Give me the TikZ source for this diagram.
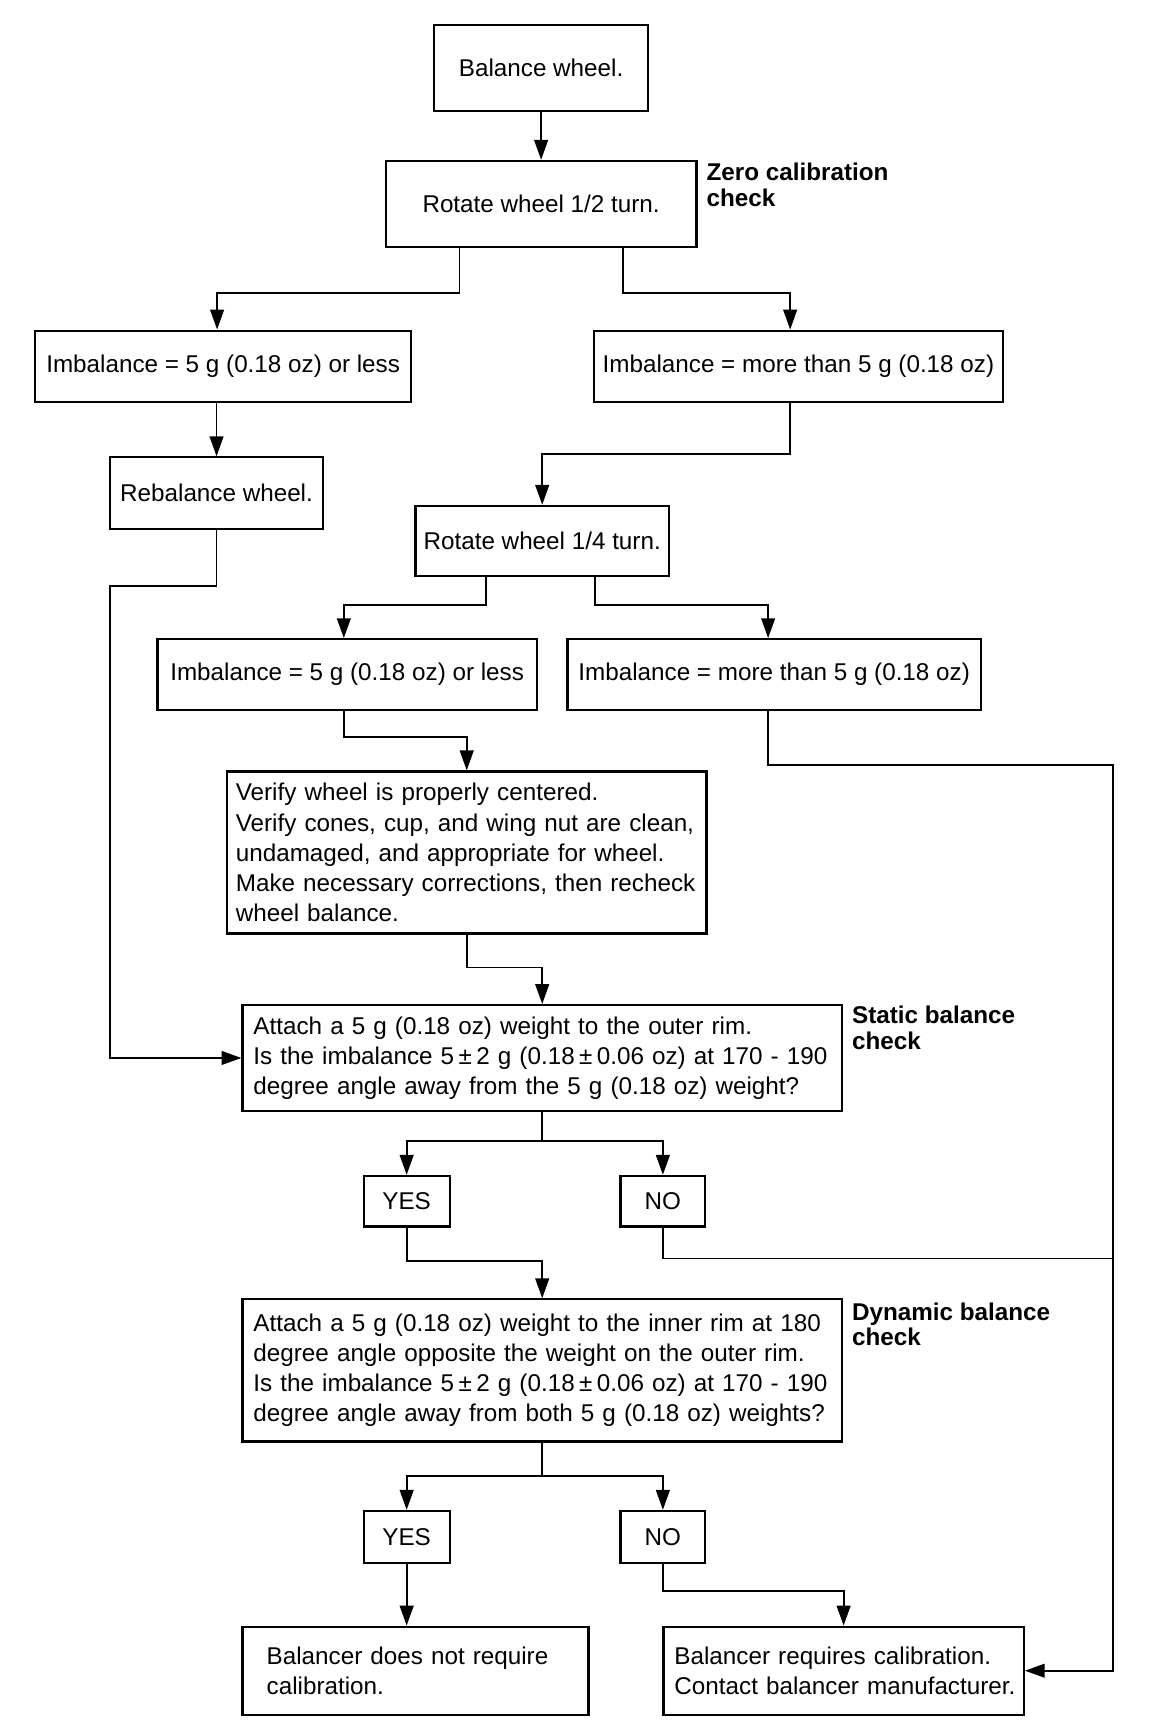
\documentclass[tikz,border=0pt]{standalone}
\usepackage{fontspec}
\setmainfont{Liberation Sans}
\usetikzlibrary{arrows.meta,calc}
\newcommand\pmsp{\hspace{4pt}±\hspace{4pt}}
\begin{document}
\begin{tikzpicture}[x=1pt,y=-1pt,
  box/.style={draw, line width=2pt, inner sep=0pt, font=\fontsize{22}{27.3}\selectfont},
  conn/.style={line width=1.6pt},
  arr/.style={conn, -{Triangle[length=18pt,width=12.5pt]}},
  lbl/.style={font=\fontsize{22}{23}\selectfont\bfseries, align=left, inner sep=0pt, anchor=north west}]
\useasboundingbox (0,0) rectangle (1045,1568);
% nodes
\node[box, minimum width=194pt, minimum height=78pt] (bal) at (491,62) {Balance wheel.};
\node[box, minimum width=282pt, minimum height=78pt] (rot2) at (491,185) {Rotate wheel 1/2 turn.};
\node[box, minimum width=341pt, minimum height=65pt] (imbL) at (202.5,332.5) {Imbalance = 5 g (0.18 oz) or less};
\node[box, minimum width=371pt, minimum height=65pt] (imbR) at (724.5,332.5) {Imbalance = more than 5 g (0.18 oz)};
\node[box, minimum width=193pt, minimum height=65pt] (reb) at (196.5,447.5) {Rebalance wheel.};
\node[box, minimum width=230pt, minimum height=64pt] (rot4) at (492,491) {Rotate wheel 1/4 turn.};
\node[box, minimum width=344pt, minimum height=64pt] (imbL2) at (315,612) {Imbalance = 5 g (0.18 oz) or less};
\node[box, minimum width=375pt, minimum height=64pt] (imbR2) at (702.5,612) {Imbalance = more than 5 g (0.18 oz)};
\node[box, align=left, text width=419pt, inner xsep=8pt, minimum height=147pt] (ver) at (423.5,773.5)
  {\mbox{Verify wheel is properly centered.}\\
   \mbox{Verify cones, cup, and wing nut are clean,}\\
   \mbox{undamaged, and appropriate for wheel.}\\
   \mbox{Make necessary corrections, then recheck}\\
   \mbox{wheel balance.}};
\node[box, align=left, text width=524pt, inner xsep=10pt, minimum height=96pt] (stat) at (492,960)
  {\mbox{Attach a 5 g (0.18 oz) weight to the outer rim.}\\
   \mbox{Is the imbalance 5\pmsp 2 g (0.18\pmsp 0.06 oz) at 170 - 190}\\
   \mbox{degree angle away from the 5 g (0.18 oz) weight?}};
\node[box, minimum width=78pt, minimum height=46pt] (yes1) at (369,1090) {YES};
\node[box, minimum width=77pt, minimum height=46pt] (no1) at (601.5,1090) {NO};
\node[box, align=left, text width=524pt, inner xsep=10pt, minimum height=129pt] (dyn) at (492,1243.5)
  {\mbox{Attach a 5 g (0.18 oz) weight to the inner rim at 180}\\
   \mbox{degree angle opposite the weight on the outer rim.}\\
   \mbox{Is the imbalance 5\pmsp 2 g (0.18\pmsp 0.06 oz) at 170 - 190}\\
   \mbox{degree angle away from both 5 g (0.18 oz) weights?}};
\node[box, minimum width=78pt, minimum height=47pt] (yes2) at (369,1394.5) {YES};
\node[box, minimum width=77pt, minimum height=47pt] (no2) at (601.5,1394.5) {NO};
\node[box, align=left, text width=270pt, inner xsep=22pt, minimum height=80pt] (caln) at (377,1516)
  {\mbox{Balancer does not require}\\ \mbox{calibration.}};
\node[box, align=left, text width=307pt, inner xsep=10pt, minimum height=80pt] (cal) at (765.5,1516)
  {\mbox{Balancer requires calibration.}\\ \mbox{Contact balancer manufacturer.}};
% labels
\node[lbl] (zl) at (641,148) {Zero calibration\\check};
\node[lbl] (sl) at (773,913) {Static balance\\check};
\node[lbl] (dl) at (773,1182) {Dynamic balance\\check};
\coordinate (rail) at (1010,0);
% connectors
\draw[arr] (bal.south) -- (rot2.north);
\draw[arr] ([xshift=-74pt]rot2.south) -- ++(0,41) -| ([xshift=-5.5pt]imbL.north);
\draw[arr] ([xshift=74pt]rot2.south) -- ++(0,41) -| ([xshift=-7.5pt]imbR.north);
\draw[arr] (reb.north |- imbL.south) -- (reb.north);
\draw[arr] (reb.south) -- ++(0,51) -- ++(-96.5,0) |- (stat.west);
\draw[arr] ([xshift=-7.5pt]imbR.south) -- ++(0,46) -| (rot4.north);
\draw[arr] ([xshift=-51pt]rot4.south) -- ++(0,25) -| ([xshift=-3pt]imbL2.north);
\draw[arr] ([xshift=48pt]rot4.south) -- ++(0,25) -| ([xshift=-5.5pt]imbR2.north);
\draw[arr] ([xshift=-3pt]imbL2.south) -- ++(0,24) -| (ver.north);
\draw[arr] ([xshift=-5.5pt]imbR2.south) -- ++(0,49) coordinate (r0) -- (r0 -| rail) |- (cal.east);
\draw[arr] (ver.south) -- ++(0,30) -| (stat.north);
\draw[arr] (stat.south) -- ++(0,26) -| (yes1.north);
\draw[arr] (stat.south) -- ++(0,26) -| (no1.north);
\draw[arr] (yes1.south) -- ++(0,30) -| (dyn.north);
\draw[conn] (no1.south) -- ++(0,28) coordinate (n1) -- (n1 -| rail);
\draw[arr] (dyn.south) -- ++(0,30) -| (yes2.north);
\draw[arr] (dyn.south) -- ++(0,30) -| (no2.north);
\draw[arr] (yes2.south) -- (yes2.south |- caln.north);
\draw[arr] (no2.south) -- ++(0,25) -| (cal.north);
\end{tikzpicture}
\end{document}
